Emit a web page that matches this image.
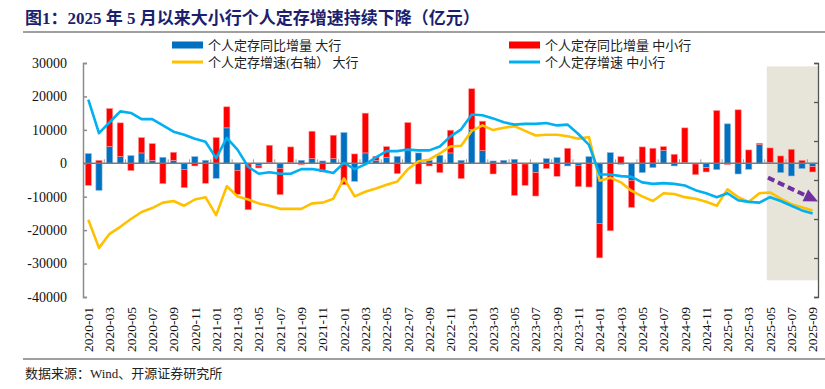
<!DOCTYPE html>
<html>
<head>
<meta charset="utf-8">
<script src="https://cdn.jsdelivr.net/npm/d3@7"></script>
<style>
  html, body { margin: 0; padding: 0; background: #fff; }
  svg { display: block; }
</style>
</head>
<body>
<svg id="chart" width="825" height="389"></svg>
<script>
// meses 2020-01 .. 2025-09
const MONTHS = [];
for (let y = 2020; y <= 2025; y++) {
  for (let m = 1; m <= 12; m++) {
    if (y === 2025 && m > 9) break;
    MONTHS.push(`${y}-${String(m).padStart(2, "0")}`);
  }
}

// 个人定存同比增量 大行 (亿元)
const BIG_INC = [
  2900, -8100, 5000, 2000, 2300, 3100, 900, 1800, 900, -1800, 2000, 900,
  -4500, 10600, -2100, -200, -800, 200, -1500, 200, 900, 1400, 700, 1400,
  9200, -5400, 3100, 900, 1800, 2100, 4100, 3100, 900, 2400, 3100, 900,
  10100, 3800, 700, 900, 1200, -200, -2800, 1400, 1700, -800, -600, 2000,
  -18000, 3200, -300, -5100, -2800, -1300, 3900, -800, 200, -200, -1300, -1900,
  11800, -3200, -1800, 5600, 300, -2800, -3800, -1600, -1000,
];

// 个人定存同比增量 中小行 (亿元)
const SMALL_INC = [
  -6600, 900, 11400, 10100, -2200, 4600, 5000, -6100, 2400, -5500, -800, -6000,
  7700, 6300, -7200, -13700, -600, 5200, -7900, 4700, -400, 8200, -2600, 7000,
  -6400, 2800, 11900, 1200, 3200, -3100, 8100, -6200, -800, -2800, 6800, -4600,
  12200, 8800, -3200, -200, -9600, -6400, -7000, -1600, -3900, 4500, -6400, -7100,
  -10300, -20200, 2000, -8100, 4900, 4500, 1100, 2700, 10400, -3200, -1300, 15800,
  -400, 16000, 4000, 400, 4300, 2200, 4200, 900, -1600,
];

// 个人定存增速 大行 (右轴, %)
const BIG_GROWTH = [
  4.9, 1.3, 3.1, 4.0, 5.0, 5.9, 6.4, 7.1, 7.3, 6.7, 7.5, 7.8,
  5.5, 9.2, 7.9, 7.5, 7.0, 6.7, 6.3, 6.3, 6.3, 7.0, 7.1, 7.6,
  10.2, 7.9, 8.5, 8.9, 9.4, 9.8, 11.4, 12.4, 12.6, 13.4, 14.3, 14.4,
  16.3, 17.0, 16.4, 16.7, 16.9, 16.3, 15.7, 15.8, 15.8, 15.6, 15.3, 15.5,
  9.9, 10.3, 9.7, 8.6, 7.9, 7.3, 8.3, 8.2, 7.8, 7.6, 7.2, 6.7,
  8.8, 7.8, 7.2, 8.3, 8.4, 7.6, 6.9, 6.5, 6.1,
];

// 个人定存增速 中小行 (右轴, %)
const SMALL_GROWTH = [
  20.3, 16.0, 17.4, 18.8, 18.6, 17.8, 17.8, 17.0, 16.2, 15.8, 15.3, 14.9,
  12.8, 15.4, 13.9, 11.7, 10.8, 11.0, 10.8, 10.8, 11.4, 11.4, 11.2, 10.9,
  12.2, 11.4, 12.0, 12.9, 13.7, 13.7, 13.9, 13.8, 13.8, 14.3, 15.6, 16.5,
  18.4, 18.3, 17.9, 17.4, 17.1, 17.2, 17.2, 17.3, 17.0, 17.1, 15.9, 14.5,
  10.7, 10.7, 10.5, 10.4, 9.7, 9.5, 9.6, 9.5, 9.3, 8.7, 8.3, 7.8,
  8.3, 7.4, 7.2, 7.1, 7.8, 7.3, 6.7, 6.1, 5.7,
];

const LEFT_TICKS = [30000, 20000, 10000, 0, -10000, -20000, -30000, -40000];
const RIGHT_TICKS = [-5, 0, 5, 10, 15, 20, 25];

const TITLE = "图1：2025 年 5 月以来大小行个人定存增速持续下降（亿元）";
const SOURCE = "数据来源：Wind、开源证券研究所";
const LEGEND = [
  { label: "个人定存同比增量 大行", color: "#0070c0", type: "bar" },
  { label: "个人定存同比增量 中小行", color: "#ff0000", type: "bar" },
  { label: "个人定存增速(右轴） 大行", color: "#ffc000", type: "line" },
  { label: "个人定存增速 中小行", color: "#00b0f0", type: "line" },
];

// area destacada (2025-05 ~ 2025-09) e seta de tendencia
const HIGHLIGHT = { from: "2025-05", to: "2025-09", top: 29000, bottom: -35000 };
const ARROW = { from: "2025-05", y0: -4300, y1: -11400 };

const C_BIG = "#0070c0";
const C_SMALL = "#ff0000";
const C_BIG_LINE = "#ffc000";
const C_SMALL_LINE = "#00b0f0";
const SERIF = "'Liberation Serif', 'Times New Roman', 'Noto Sans CJK SC', serif";
const CJK = "'Liberation Serif', 'Noto Sans CJK SC', sans-serif";

const d3v = window.d3;
const svg = d3v.select("#chart");

const PLOT = { left: 83, right: 818, top: 63, bottom: 297 };

const rows = MONTHS.map((m, i) => ({
  month: m,
  big: BIG_INC[i],
  small: SMALL_INC[i],
  gBig: BIG_GROWTH[i],
  gSmall: SMALL_GROWTH[i],
}));

const x = d3v.scaleBand().domain(MONTHS).range([PLOT.left, PLOT.right]).paddingInner(0.42).paddingOuter(0.21);
const xStep = d3v.scaleBand().domain(MONTHS).range([PLOT.left, PLOT.right]);
const yL = d3v.scaleLinear().domain([-40000, 30000]).range([PLOT.bottom, PLOT.top]);
const yR = d3v.scaleLinear().domain([-5, 25]).range([PLOT.bottom, PLOT.top]);

drawHeader();
drawHighlight();
drawBars();
drawAxes();
drawLines();
drawArrow();
drawLegend();

function drawHeader() {
  svg.append("text")
    .attr("x", 25).attr("y", 24)
    .attr("font-family", CJK).attr("font-size", 17).attr("font-weight", 700)
    .attr("fill", "#1b1f6e")
    .text(TITLE);
  svg.append("line")
    .attr("x1", 23).attr("x2", 825).attr("y1", 32).attr("y2", 32)
    .attr("stroke", "#7f7f7f").attr("stroke-width", 1.3);
  svg.append("line")
    .attr("x1", 23).attr("x2", 825).attr("y1", 359).attr("y2", 359)
    .attr("stroke", "#7f7f7f").attr("stroke-width", 1.3);
  svg.append("text")
    .attr("x", 25).attr("y", 378)
    .attr("font-family", CJK).attr("font-size", 13)
    .attr("fill", "#222")
    .text(SOURCE);
}

function drawHighlight() {
  const x0 = xStep(HIGHLIGHT.from) + 2;
  const x1 = xStep(HIGHLIGHT.to) + xStep.bandwidth();
  svg.append("rect")
    .attr("x", x0).attr("y", yL(HIGHLIGHT.top))
    .attr("width", x1 - x0).attr("height", yL(HIGHLIGHT.bottom) - yL(HIGHLIGHT.top))
    .attr("fill", "#e7e4da");
}

function drawBars() {
  const stack = d3v.stack().keys(["big", "small"]).offset(d3v.stackOffsetDiverging);
  const series = stack(rows);
  const colors = { big: C_BIG, small: C_SMALL };
  const edge = { big: "#8fb9e0", small: "#ff9a9a" };

  svg.append("g")
    .selectAll("g")
    .data(series)
    .join("g")
    .attr("fill", (s) => colors[s.key])
    .attr("stroke", (s) => edge[s.key])
    .attr("stroke-width", 0.6)
    .selectAll("rect")
    .data((s) => s)
    .join("rect")
    .attr("x", (d) => x(d.data.month))
    .attr("width", x.bandwidth())
    .attr("y", (d) => yL(Math.max(d[0], d[1])))
    .attr("height", (d) => Math.abs(yL(d[0]) - yL(d[1])));
}

function drawAxes() {
  const axisColor = "#8c8c8c";

  const left = svg.append("g").attr("transform", `translate(${PLOT.left},0)`);
  left.call(d3v.axisRight(yL).tickValues(LEFT_TICKS).tickSize(4).tickFormat(""))
    .call((g) => g.selectAll("line,path").attr("stroke", axisColor).attr("stroke-width", 1.5));
  left.selectAll("text.ylab")
    .data(LEFT_TICKS)
    .join("text")
    .attr("class", "ylab")
    .attr("x", -16).attr("y", (d) => yL(d))
    .attr("dy", "0.35em")
    .attr("text-anchor", "end")
    .attr("font-family", SERIF).attr("font-size", 14)
    .attr("fill", "#111")
    .text((d) => d);

  const right = svg.append("g").attr("transform", `translate(${PLOT.right},0)`);
  right.call(d3v.axisLeft(yR).tickValues(RIGHT_TICKS).tickSize(4).tickFormat(""))
    .call((g) => g.selectAll("line,path").attr("stroke", "#555").attr("stroke-width", 1.3));

  // eixo x na linha do zero, ticks a cada dois meses
  const zero = yL(0);
  const bottom = svg.append("g").attr("transform", `translate(0,${zero})`);
  bottom.append("line")
    .attr("x1", PLOT.left).attr("x2", PLOT.right)
    .attr("stroke", "#7a7a7a").attr("stroke-width", 1.6);
  bottom.selectAll("line.tk")
    .data(MONTHS.filter((_m, i) => i % 2 === 0 && i > 0))
    .join("line")
    .attr("class", "tk")
    .attr("x1", (m) => xStep(m)).attr("x2", (m) => xStep(m))
    .attr("y1", -4).attr("y2", 0)
    .attr("stroke", "#9a9a9a").attr("stroke-width", 1);

  svg.append("g")
    .selectAll("text")
    .data(MONTHS.filter((_m, i) => i % 2 === 0))
    .join("text")
    .attr("transform", (m) => `translate(${x(m) + x.bandwidth() / 2},307) rotate(-90)`)
    .attr("dy", "0.35em")
    .attr("text-anchor", "end")
    .attr("font-family", SERIF).attr("font-size", 13.5)
    .attr("fill", "#111")
    .text((m) => m);
}

function drawLines() {
  const cx = (d) => x(d.month) + x.bandwidth() / 2;
  const lineBig = d3v.line().x(cx).y((d) => yR(d.gBig));
  const lineSmall = d3v.line().x(cx).y((d) => yR(d.gSmall));

  svg.append("path")
    .datum(rows)
    .attr("fill", "none")
    .attr("stroke", C_BIG_LINE)
    .attr("stroke-width", 2.6)
    .attr("stroke-linejoin", "round")
    .attr("d", lineBig);
  svg.append("path")
    .datum(rows)
    .attr("fill", "none")
    .attr("stroke", C_SMALL_LINE)
    .attr("stroke-width", 2.6)
    .attr("stroke-linejoin", "round")
    .attr("d", lineSmall);
}

function drawArrow() {
  const x0 = x(ARROW.from) + 1;
  const x1 = PLOT.right;
  const y0 = yL(ARROW.y0);
  const y1 = yL(ARROW.y1);
  const ang = Math.atan2(y1 - y0, x1 - x0);
  const head = 14;
  const hx = x1 - head * Math.cos(ang);
  const hy = y1 - head * Math.sin(ang);
  const px = Math.sin(ang) * 6.5;
  const py = -Math.cos(ang) * 6.5;

  svg.append("line")
    .attr("x1", x0).attr("y1", y0).attr("x2", hx).attr("y2", hy)
    .attr("stroke", "#7030a0").attr("stroke-width", 4)
    .attr("stroke-dasharray", "7 4");
  svg.append("path")
    .attr("d", `M${x1},${y1}L${hx + px},${hy + py}L${hx - px},${hy - py}Z`)
    .attr("fill", "#7030a0");
}

function drawLegend() {
  const pos = [
    { x: 172, y: 45 },
    { x: 509, y: 45 },
    { x: 172, y: 62 },
    { x: 509, y: 62 },
  ];
  const g = svg.append("g");
  LEGEND.forEach((item, i) => {
    const p = pos[i];
    if (item.type === "bar") {
      g.append("rect")
        .attr("x", p.x).attr("y", p.y - 3.5)
        .attr("width", 31).attr("height", 7)
        .attr("fill", item.color);
    } else {
      g.append("line")
        .attr("x1", p.x).attr("x2", p.x + 31)
        .attr("y1", p.y).attr("y2", p.y)
        .attr("stroke", item.color).attr("stroke-width", 3);
    }
    g.append("text")
      .attr("x", p.x + 36).attr("y", p.y)
      .attr("dy", "0.35em")
      .attr("font-family", CJK).attr("font-size", 13)
      .attr("fill", "#222")
      .text(item.label);
  });
}
</script>
</body>
</html>
